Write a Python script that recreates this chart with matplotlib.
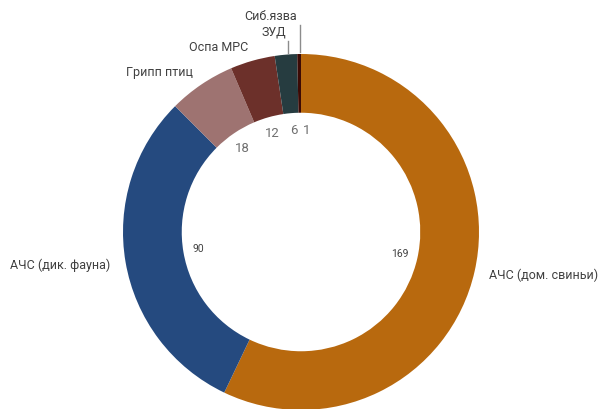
import matplotlib
matplotlib.use("Agg")
import matplotlib.pyplot as plt
import numpy as np

categories = ["АЧС (дом. свиньи)", "АЧС (дик. фауна)", "Грипп птиц", "Оспа МРС", "ЗУД", "Сиб.язва"]
values = [169, 90, 18, 12, 6, 1]
colors = ["#B8690E", "#254A7F", "#9E7371", "#6C302A", "#263C40", "#3C0A05"]

plt.rcParams['font.family'] = ['Roboto', 'DejaVu Sans']

fig = plt.figure(figsize=(5.98, 4.10), dpi=100)
ax = fig.add_axes([0, 0, 1, 1])
cx, cy, R = 301, 177, 178
wedges, _ = ax.pie(values, colors=colors, startangle=90, counterclock=False,
                   center=(cx, cy), radius=R, frame=True,
                   wedgeprops=dict(width=R * 0.33, edgecolor='none'))
ax.set_xlim(0, 598)
ax.set_ylim(0, 410)
ax.axis('off')

# value labels inside the hole
num_style = {0: (7.5, '#404040'), 1: (7.5, '#404040')}
num_offsets = {0: (0, 1), 1: (-3, 1), 2: (-2, 0), 3: (-1, 2), 4: (1, 1), 5: (7, 1)}
for i, (w, v) in enumerate(zip(wedges, values)):
    th = np.deg2rad((w.theta1 + w.theta2) / 2)
    x = cx + 0.57 * R * np.cos(th) + num_offsets[i][0]
    y = cy + 0.57 * R * np.sin(th) + num_offsets[i][1]
    fs, col = num_style.get(i, (9.5, '#6f6f6f'))
    ax.text(x, y, str(v), ha='center', va='center', fontsize=fs, color=col)

# category labels
for i, (w, name) in enumerate(zip(wedges, categories)):
    th = np.deg2rad((w.theta1 + w.theta2) / 2)
    ox = cx + R * np.cos(th)
    oy = cy + R * np.sin(th)
    if i >= 4:
        ty = oy + (17 if i == 4 else 32)
        lxp = ox + (2 if i == 4 else 1)
        ax.plot([lxp, lxp], [oy + 2, ty - 3], color='#8c8c8c', lw=1)
        ax.text(ox + (0 if i == 4 else -2), ty, name,
                ha='right', va='bottom', fontsize=9, color='#404040')
        continue
    lx = cx + 1.085 * R * np.cos(th)
    ly = cy + 1.085 * R * np.sin(th)
    ha = 'left' if np.cos(th) > 0 else 'right'
    ax.text(lx, ly, name, ha=ha, va='center', fontsize=9, color='#404040')

fig.savefig("out.png", dpi=100)
